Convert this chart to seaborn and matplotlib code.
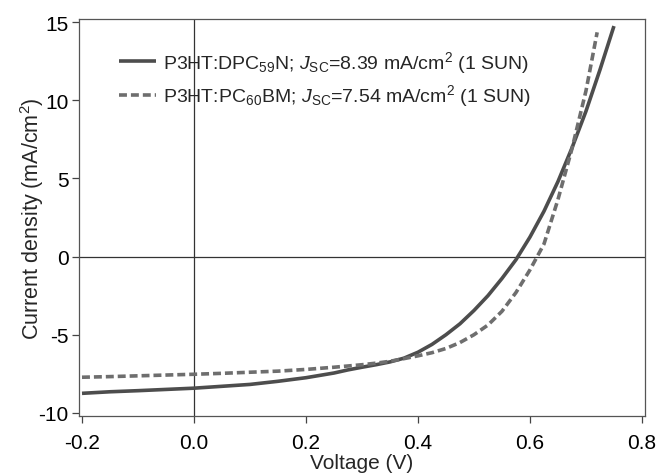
import matplotlib
matplotlib.use("Agg")
import matplotlib.pyplot as plt
import seaborn as sns
import pandas as pd

# ---- data ----
v_dpc = [-0.2, -0.15, -0.1, -0.05, 0.0, 0.05, 0.1, 0.15, 0.2, 0.25, 0.275, 0.3, 0.325,
         0.35, 0.375, 0.4, 0.425, 0.45, 0.475, 0.5, 0.525, 0.55, 0.575, 0.6, 0.625,
         0.65, 0.675, 0.7, 0.725, 0.75]
j_dpc = [-8.75, -8.65, -8.58, -8.5, -8.42, -8.3, -8.18, -7.98, -7.75, -7.45, -7.25, -7.08, -6.92,
         -6.74, -6.5, -6.12, -5.62, -5.0, -4.3, -3.45, -2.5, -1.4, -0.2, 1.25, 2.9,
         4.8, 6.95, 9.3, 11.95, 14.75]

v_pcbm = [-0.2, -0.15, -0.1, -0.05, 0.0, 0.05, 0.1, 0.15, 0.2, 0.25, 0.3, 0.325, 0.35,
          0.375, 0.4, 0.425, 0.45, 0.475, 0.5, 0.525, 0.55, 0.575, 0.6, 0.625, 0.65,
          0.675, 0.7, 0.72]
j_pcbm = [-7.72, -7.68, -7.63, -7.58, -7.53, -7.47, -7.4, -7.33, -7.22, -7.08, -6.92, -6.82, -6.7,
          -6.53, -6.35, -6.15, -5.88, -5.5, -5.0, -4.38, -3.5, -2.3, -0.85, 0.8, 3.65,
          6.9, 10.6, 14.35]

labels = [r"P3HT:DPC$_{59}$N; $J_{\mathrm{SC}}$=8.39 mA/cm$^{2}$ (1 SUN)",
          r"P3HT:PC$_{60}$BM; $J_{\mathrm{SC}}$=7.54 mA/cm$^{2}$ (1 SUN)"]
x_ticks = [-0.2, 0.0, 0.2, 0.4, 0.6, 0.8]
x_ticklabels = ["-0.2", "0.0", "0.2", "0.4", "0.6", "0.8"]
y_ticks = [-10, -5, 0, 5, 10, 15]
x_label = "Voltage (V)"
y_label = r"Current density (mA/cm$^{2}$)"

df = pd.concat([
    pd.DataFrame({"V": v_dpc, "J": j_dpc, "sample": labels[0]}),
    pd.DataFrame({"V": v_pcbm, "J": j_pcbm, "sample": labels[1]}),
], ignore_index=True)

sns.set_theme(style="ticks")
plt.rcParams["font.family"] = ["Liberation Sans", "DejaVu Sans"]
plt.rcParams["mathtext.fontset"] = "custom"
plt.rcParams["mathtext.rm"] = "Liberation Sans"
plt.rcParams["mathtext.it"] = "Liberation Sans:style=italic"
plt.rcParams["mathtext.bf"] = "Liberation Sans:weight=bold"
plt.rcParams["axes.unicode_minus"] = False

fig = plt.figure(figsize=(6.57, 4.77), dpi=100)
ax = fig.add_axes([0.1202, 0.1258, 0.8615, 0.8322])

ax.axhline(0, color="#333333", lw=0.9, zorder=1)
ax.axvline(0, color="#333333", lw=0.9, zorder=1)

sns.lineplot(data=df, x="V", y="J", hue="sample", style="sample",
             palette=["#4d4d4d", "#6e6e6e"],
             dashes=[(1, 0), (2.2, 1.1)], linewidth=2.6,
             sort=False, estimator=None, ax=ax, zorder=3)
for line in ax.get_lines():
    line.set_solid_capstyle("butt")
    line.set_dash_capstyle("butt")
    line.set_solid_joinstyle("round")

ax.set_xlim(-0.2054, 0.8054)
ax.set_ylim(-10.2, 15.2)
ax.set_xticks(x_ticks)
ax.set_xticklabels(x_ticklabels)
ax.set_yticks(y_ticks)
ax.tick_params(axis="both", direction="out", length=5, width=0.9,
               color="#444444", labelsize=15, labelcolor="black")
ax.tick_params(axis="x", pad=7.5)
ax.tick_params(axis="y", pad=2.5)
for s in ax.spines.values():
    s.set_visible(True)
    s.set_linewidth(0.9)
    s.set_color("#555555")

ax.set_xlabel(x_label, fontsize=15)
ax.set_ylabel(y_label, fontsize=15.5)
ax.xaxis.set_label_coords(0.5, -0.094)
ax.yaxis.set_label_coords(-0.058, 0.5)

leg = ax.legend(loc="upper left", bbox_to_anchor=(0.07, 0.925), frameon=False,
                fontsize=14, handlelength=1.9, handletextpad=0.4,
                borderpad=0, borderaxespad=0, labelspacing=0.4, title=None)

fig.savefig("out.png", dpi=100)
